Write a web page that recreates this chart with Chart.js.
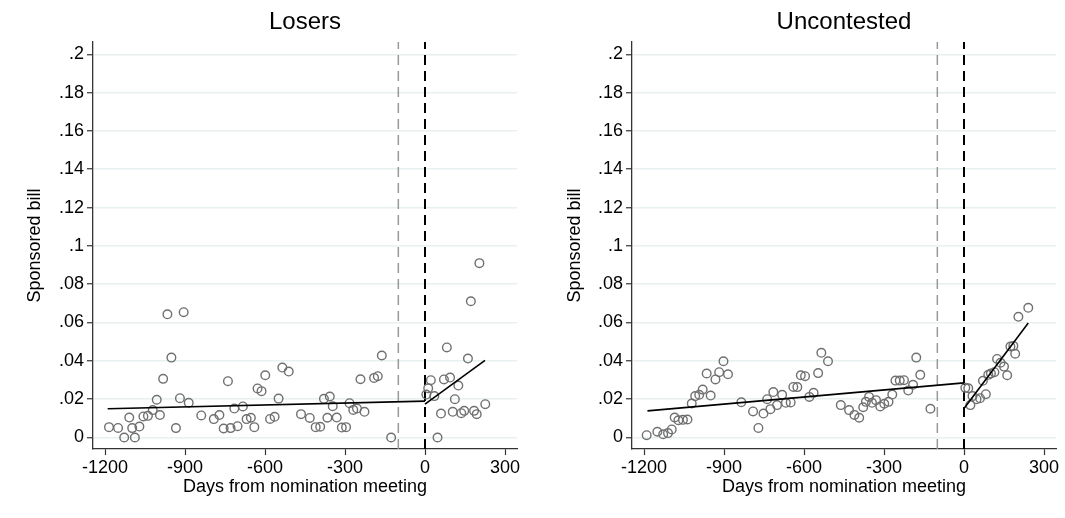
<!DOCTYPE html>
<html>
<head>
<meta charset="utf-8">
<script src="https://cdn.jsdelivr.net/npm/chart.js@4/dist/chart.umd.min.js"></script>
<style>
  html, body { margin: 0; padding: 0; background: #fff; width: 1065px; height: 518px; overflow: hidden; }
  canvas { position: absolute; top: 0; }
  #c1 { left: 0; }
  #c2 { left: 540px; }
</style>
</head>
<body>
<canvas id="c1" width="532" height="518"></canvas>
<canvas id="c2" width="525" height="518"></canvas>
<script>
// ---- tick labels ----
const xTicks = [-1200, -900, -600, -300, 0, 300];
const yTicks = [0, 0.02, 0.04, 0.06, 0.08, 0.1, 0.12, 0.14, 0.16, 0.18, 0.2];

// ---- Losers panel ----
const losersDays = [-1185,-1151,-1128,-1109,-1098,-1088,-1071,-1056,-1039,-1021,-1006,-994,-982,-966,-951,-934,-919,-905,-886,-839,-792,-771,-755,-739,-729,-715,-703,-683,-669,-653,-640,-628,-613,-599,-581,-564,-549,-535,-511,-465,-432,-410,-393,-379,-366,-357,-346,-331,-312,-296,-283,-269,-255,-242,-227,-191,-177,-162,-127,5,12,22,35,47,60,71,82,94,104,112,125,136,147,161,172,184,194,204,226];
const losersBill = [0.0054,0.005,0,0.0104,0.0049,0,0.0057,0.011,0.0113,0.0143,0.0197,0.0117,0.0306,0.0643,0.0417,0.0049,0.0205,0.0654,0.0181,0.0115,0.0096,0.0117,0.0047,0.0294,0.0049,0.0151,0.0059,0.0162,0.0096,0.0103,0.0054,0.0256,0.0242,0.0325,0.0097,0.0108,0.0203,0.0365,0.0344,0.0122,0.0102,0.0054,0.0056,0.0202,0.0103,0.0214,0.0163,0.0104,0.0052,0.0054,0.0179,0.0144,0.0151,0.0304,0.0134,0.0311,0.032,0.0428,0,0.0224,0.0257,0.0299,0.0216,0,0.0125,0.0303,0.047,0.0313,0.0134,0.02,0.0271,0.0127,0.0139,0.0412,0.0711,0.0139,0.0122,0.091,0.0174];
const losersFitPreDays = [-1190, 0];
const losersFitPre = [0.015, 0.019];
const losersFitPostDays = [0, 225];
const losersFitPost = [0.0174, 0.0403];

// ---- Uncontested panel ----
const uncDays = [-1190,-1150,-1128,-1110,-1096,-1085,-1071,-1054,-1037,-1021,-1008,-993,-980,-965,-950,-932,-918,-902,-885,-835,-791,-771,-752,-738,-726,-715,-701,-682,-668,-650,-640,-625,-612,-596,-580,-564,-547,-535,-510,-462,-431,-411,-393,-378,-368,-356,-345,-330,-314,-299,-283,-269,-257,-241,-225,-209,-191,-179,-164,-126,5,16,24,32,47,60,71,82,91,101,114,124,137,150,162,174,185,192,204,241];
const uncBill = [0.0012,0.003,0.0017,0.0023,0.0042,0.0104,0.009,0.0092,0.0094,0.0177,0.0216,0.0223,0.025,0.0334,0.0219,0.0303,0.0341,0.0398,0.033,0.0184,0.0136,0.005,0.0125,0.02,0.0148,0.0237,0.0169,0.0223,0.0181,0.0183,0.0264,0.0263,0.0325,0.032,0.0212,0.0233,0.0336,0.0442,0.0398,0.0169,0.0143,0.0118,0.0103,0.0158,0.0186,0.0212,0.0181,0.0195,0.0162,0.0176,0.0186,0.0224,0.0297,0.0297,0.0299,0.0245,0.0275,0.0417,0.0327,0.015,0.0259,0.0257,0.0169,0.0216,0.02,0.0205,0.0296,0.0226,0.0327,0.0334,0.0341,0.041,0.039,0.037,0.0325,0.0475,0.0478,0.0437,0.063,0.0677];
const uncFitPreDays = [-1187, 0];
const uncFitPre = [0.0139, 0.0285];
const uncFitPostDays = [0, 241];
const uncFitPost = [0.0151, 0.0598];

// reference lines
const cutoffDay = 0;
const windowDay = -100;

// axis ranges
const xMin = -1245, xMax = 345;
const yMin = -0.006, yMax = 0.2064;

const FONT = "'Liberation Sans', Arial, Helvetica, sans-serif";

function pts(xs, ys) { return xs.map((x, i) => ({ x: x, y: ys[i] })); }

function fmtY(v) {
  if (Math.abs(v) < 1e-9) return '0';
  let s = String(+v.toFixed(2));
  return s.replace(/^0\./, '.');
}

function makeChart(id, title, days, bill, preD, preV, postD, postV, yWidth, padRight) {
  const ctx = document.getElementById(id).getContext('2d');
  return new Chart(ctx, {
    type: 'scatter',
    data: {
      datasets: [
        { type: 'line', data: pts([windowDay, windowDay], [yMin, yMax]), borderColor: '#9a9a9a', borderWidth: 1.5, borderDash: [10, 6], pointRadius: 0, order: 5 },
        { type: 'line', data: pts([cutoffDay, cutoffDay], [yMin, yMax]), borderColor: '#000000', borderWidth: 2, borderDash: [10, 6], pointRadius: 0, order: 4 },
        { data: pts(days, bill), pointStyle: 'circle', pointRadius: 4.3, pointBackgroundColor: 'rgba(0,0,0,0)', pointBorderColor: '#707070', pointBorderWidth: 1.4, order: 2 },
        { type: 'line', data: pts(preD, preV), borderColor: '#000', borderWidth: 1.6, pointRadius: 0, order: 1 },
        { type: 'line', data: pts(postD, postV), borderColor: '#000', borderWidth: 1.6, pointRadius: 0, order: 1 }
      ]
    },
    options: {
      responsive: false,
      animation: false,
      events: [],
      layout: { padding: { left: 0, right: padRight, top: 0, bottom: 0 } },
      plugins: {
        legend: { display: false },
        tooltip: { enabled: false },
        title: {
          display: true, text: title, fullSize: false, color: '#000',
          font: { family: FONT, size: 24, weight: 'normal' },
          padding: { top: 7.5, bottom: 5.7 }
        }
      },
      scales: {
        x: {
          type: 'linear', min: xMin, max: xMax,
          afterBuildTicks: s => { s.ticks = xTicks.map(v => ({ value: v })); },
          afterFit: s => { s.height = 69; },
          ticks: { color: '#000', font: { family: FONT, size: 18 }, padding: 2, autoSkip: false, maxRotation: 0, callback: v => String(v) },
          grid: { display: true, drawOnChartArea: false, drawTicks: true, tickLength: 6, tickColor: '#333', tickWidth: 1.2 },
          border: { display: true, color: '#333', width: 1.3 },
          title: { display: true, text: 'Days from nomination meeting', color: '#000', font: { family: FONT, size: 18 }, padding: { top: 0, bottom: 20 } }
        },
        y: {
          type: 'linear', min: yMin, max: yMax,
          afterBuildTicks: s => { s.ticks = yTicks.map(v => ({ value: v })); },
          afterFit: s => { s.width = yWidth; },
          ticks: { color: '#000', font: { family: FONT, size: 18 }, padding: 3, autoSkip: false, callback: v => fmtY(v) },
          grid: { display: true, drawOnChartArea: true, color: '#e8f0f2', lineWidth: 1.5, drawTicks: true, tickLength: 6, tickColor: '#333', tickWidth: 1.2 },
          border: { display: true, color: '#333', width: 1.3 },
          title: { display: true, text: 'Sponsored bill', color: '#000', font: { family: FONT, size: 18 }, padding: { top: 24, bottom: 0 } }
        }
      }
    }
  });
}

makeChart('c1', 'Losers', losersDays, losersBill, losersFitPreDays, losersFitPre, losersFitPostDays, losersFitPost, 93, 15);
makeChart('c2', 'Uncontested', uncDays, uncBill, uncFitPreDays, uncFitPre, uncFitPostDays, uncFitPost, 92, 9);
</script>
</body>
</html>
